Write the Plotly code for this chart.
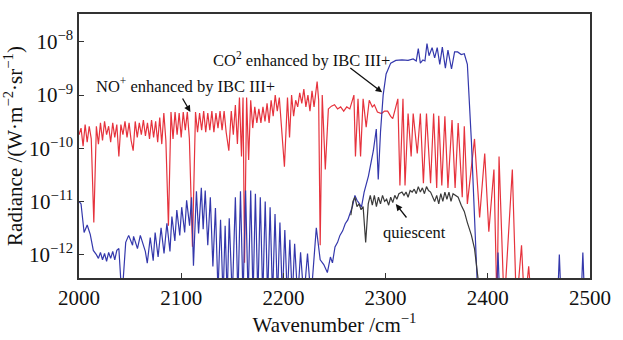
import plotly.graph_objects as go

# ---------------- data ----------------
red_wn = [2000, 2002, 2004, 2006, 2008, 2010, 2012, 2014.5, 2017, 2019, 2021, 2023, 2025, 2027, 2029,
          2031, 2033, 2035, 2037, 2039, 2041, 2043, 2045, 2047, 2049, 2051, 2053, 2055, 2057, 2059,
          2061, 2063, 2065, 2067, 2069, 2071, 2073, 2075, 2077, 2079, 2081, 2083, 2085, 2087.5, 2090,
          2092, 2094, 2096, 2098, 2100, 2102, 2104, 2106, 2108, 2111, 2114, 2116, 2118, 2120, 2122,
          2124, 2126, 2128, 2130, 2132, 2134, 2136, 2138, 2140, 2142, 2144, 2146.6, 2149, 2151, 2153,
          2155, 2157, 2159, 2160.5, 2162, 2164, 2166, 2168, 2170, 2172, 2174, 2176, 2178, 2180, 2182,
          2184, 2186, 2188, 2190, 2192, 2194, 2196, 2198, 2201, 2204, 2206, 2208, 2210, 2212, 2214,
          2216, 2218, 2220, 2222, 2224, 2226, 2228, 2230, 2233, 2234.5, 2236, 2238, 2241, 2244, 2247,
          2250, 2253, 2256, 2259, 2262, 2265, 2267, 2269, 2270.5, 2273, 2275.5, 2278, 2281, 2284, 2287,
          2289, 2292, 2296, 2299, 2302, 2305, 2307, 2310, 2312, 2314, 2317, 2319, 2322, 2325, 2327,
          2331, 2334, 2337, 2340, 2344, 2347, 2350, 2352, 2355, 2358, 2361, 2365, 2368, 2371, 2375,
          2377, 2380, 2387, 2392, 2397, 2401, 2406, 2409, 2411, 2416, 2424, 2428, 2433, 2436, 2440, 2443]
red_val = [1.8e-10, 2.4e-10, 1.1e-10, 2.8e-10, 1.3e-10, 2.6e-10, 1.5e-10, 4.0e-12, 2.6e-10, 1.2e-10,
           3.0e-10, 1.4e-10, 3.2e-10, 1.8e-10, 2.6e-10, 1.3e-10, 3.0e-10, 1.6e-10, 2.8e-10, 7.0e-11,
           2.8e-10, 1.8e-10, 3.2e-10, 1.6e-10, 3.0e-10, 1.4e-10, 9.0e-11, 3.2e-10, 1.6e-10, 3.0e-10,
           1.8e-10, 3.4e-10, 1.7e-10, 3.0e-10, 1.5e-10, 3.4e-10, 1.6e-10, 3.2e-10, 1.3e-10, 3.8e-10,
           1.2e-10, 4.6e-10, 1.4e-10, 3.5e-12, 4.8e-10, 1.5e-10, 4.8e-10, 1.8e-10, 4.6e-10, 1.6e-10,
           4.8e-10, 2.2e-10, 4.8e-10, 1.5e-10, 1.4e-12, 4.8e-10, 2.0e-10, 4.6e-10, 2.2e-10, 5.0e-10,
           2.0e-10, 4.6e-10, 2.2e-10, 5.0e-10, 2.0e-10, 4.6e-10, 2.4e-10, 5.0e-10, 2.2e-10, 5.0e-10,
           2.0e-10, 9.0e-11, 5.0e-10, 1.8e-10, 6.5e-10, 1.2e-10, 9.0e-10, 7.0e-11, 9.0e-10, 7.0e-13,
           9.0e-10, 6.0e-11, 8.0e-10, 2.4e-10, 6.0e-10, 3.0e-10, 5.5e-10, 3.0e-10, 6.0e-10, 3.2e-10,
           7.0e-10, 3.0e-10, 8.0e-10, 4.0e-10, 1.0e-9, 5.0e-10, 9.0e-10, 2.4e-10, 4.5e-11, 9.0e-10,
           1.6e-10, 1.0e-9, 4.0e-10, 8.0e-10, 6.0e-10, 1.1e-9, 7.0e-10, 1.3e-9, 6.0e-10, 1.0e-9,
           5.0e-10, 1.2e-9, 6.0e-10, 1.8e-9, 8.0e-10, 1.5e-12, 1.0e-9, 4.0e-11, 5.5e-10, 6.2e-10,
           6.6e-10, 5.5e-10, 6.0e-10, 5.0e-10, 6.0e-10, 5.5e-10, 7.5e-10, 1.0e-9, 7.0e-11, 8.5e-10,
           7.0e-11, 8.5e-10, 2.5e-10, 8.0e-10, 6.0e-10, 6.6e-10, 4.8e-10, 4.5e-10, 5.0e-10, 5.0e-10,
           4.0e-10, 3.6e-10, 6.0e-10, 8.5e-10, 2.0e-11, 8.5e-10, 2.0e-11, 4.5e-10, 7.0e-11, 4.5e-10,
           8.0e-11, 4.5e-10, 2.2e-11, 4.5e-10, 2.2e-11, 4.5e-10, 1.8e-11, 4.1e-10, 2.0e-11, 4.0e-10,
           1.8e-11, 3.4e-10, 1.8e-11, 3.0e-10, 1.2e-11, 2.6e-10, 9.0e-12, 1.5e-10, 5.0e-12, 8.0e-11,
           2.7e-12, 4.0e-11, 1.0e-13, 7.0e-11, 1.0e-13, 4.0e-11, 1.0e-13, 1.5e-12, 1.0e-13, 6.0e-13,
           1.0e-13]

blue_wn = [2000, 2002, 2005, 2008, 2011, 2014, 2017, 2019, 2021, 2023, 2025, 2027, 2029, 2031, 2033,
           2035, 2037, 2039, 2042, 2045.7, 2048.6, 2052.4, 2053.4, 2057.2, 2060, 2064.9, 2066.8, 2069.7,
           2072.6, 2074.5, 2077.4, 2080.3, 2083.2, 2086, 2089, 2090.9, 2093.8, 2095.7, 2098.6, 2100.5,
           2103.4, 2105.3, 2108.2, 2110.1, 2112, 2114.9, 2117, 2119.7, 2121.5, 2123.5, 2126, 2128.5,
           2131, 2133.5, 2136, 2138.5, 2141, 2143, 2145, 2147, 2150, 2153, 2155.5, 2158, 2160.5, 2163,
           2165.5, 2168, 2170.3, 2172.6, 2175, 2177.4, 2179.8, 2182.2, 2184.6, 2187, 2189.4, 2191.8,
           2194.2, 2196.6, 2199, 2201.4, 2203.8, 2206.3, 2208.7, 2211, 2214, 2216.8, 2220, 2223.6, 2227,
           2232.2, 2236, 2239.5, 2243, 2246, 2248, 2250.5, 2253, 2255.3, 2258, 2260.5, 2263, 2265,
           2267.5, 2270, 2272, 2274.5, 2276.4, 2279, 2283.2, 2288, 2290.9, 2292.8, 2295, 2297.6, 2300.5,
           2305, 2310, 2316, 2322, 2327, 2330, 2332, 2334, 2336.5, 2338.5, 2340.5, 2342.5, 2345.5, 2348,
           2350.5, 2353, 2355.5, 2358.5, 2361, 2364.5, 2367.5, 2370.5, 2374, 2377, 2380, 2384, 2390,
           2408, 2410, 2412, 2468, 2470, 2472, 2491, 2493, 2495, 2500]
blue_val = [1.0e-11, 9.0e-12, 2.6e-12, 3.6e-12, 2.4e-12, 1.2e-12, 1.0e-12, 8.5e-13, 1.1e-12, 8.0e-13,
            1.05e-12, 7.5e-13, 1.1e-12, 8.5e-13, 1.15e-12, 8.0e-13, 1.2e-12, 1.3e-12, 1.5e-13, 1.7e-12,
            2.3e-12, 1.5e-12, 2.2e-12, 1.3e-12, 2.3e-12, 1.15e-12, 6.9e-13, 2.1e-12, 7.7e-13, 2.6e-12,
            9.0e-13, 3.2e-12, 1.05e-12, 3.9e-12, 1.15e-12, 5.2e-12, 1.8e-12, 6.9e-12, 2.3e-12, 7.8e-12,
            2.6e-12, 1.05e-11, 3.5e-12, 1.2e-11, 6.2e-13, 1.55e-11, 2.5e-12, 1.8e-11, 3.0e-12, 1.6e-11,
            1.5e-12, 1.2e-11, 6.0e-13, 7.5e-12, 2.0e-13, 4.5e-12, 1.5e-13, 3.5e-12, 1.5e-13, 4.8e-12,
            1.5e-13, 1.2e-11, 1.5e-13, 1.55e-11, 1.5e-13, 1.6e-11, 1.5e-13, 1.6e-11, 1.5e-13, 1.4e-11,
            1.5e-13, 1.2e-11, 1.5e-13, 1.0e-11, 1.5e-13, 7.8e-12, 1.5e-13, 5.8e-12, 1.5e-13, 4.0e-12,
            1.5e-13, 2.9e-12, 1.5e-13, 1.9e-12, 1.5e-13, 1.6e-12, 1.5e-13, 1.1e-12, 1.5e-13, 1.05e-12,
            1.5e-13, 3.2e-12, 8.0e-13, 6.5e-13, 4.6e-13, 9.0e-13, 7.0e-13, 1.4e-12, 1.7e-12, 2.3e-12,
            2.8e-12, 3.8e-12, 4.5e-12, 6.0e-12, 8.0e-12, 1.3e-11, 1.05e-11, 9.0e-12, 7.8e-12, 1.5e-11,
            3.0e-11, 9.0e-11, 2.3e-10, 2.6e-11, 2.0e-10, 1.0e-9, 2.5e-9, 4.0e-9, 4.5e-9, 4.6e-9, 4.5e-9,
            4.8e-9, 4.4e-9, 7.5e-9, 4.0e-9, 4.6e-9, 4.4e-9, 9.3e-9, 5.5e-9, 7.8e-9, 5.0e-9, 7.8e-9,
            3.8e-9, 8.0e-9, 3.2e-9, 7.0e-9, 3.1e-9, 6.5e-9, 6.5e-9, 5.8e-9, 6.0e-9, 3.8e-9, 1.3e-10,
            2.0e-13, 1.0e-13, 1.1e-12, 1.0e-13, 1.0e-13, 1.0e-12, 1.0e-13, 1.0e-13, 1.1e-12, 1.0e-13,
            1.0e-13]

quiet_wn = [2266, 2268, 2270, 2272, 2274, 2276, 2278, 2280.5, 2283, 2285, 2287, 2289, 2291, 2293, 2295,
            2297, 2299, 2301, 2303, 2305, 2307, 2309, 2311, 2313, 2316, 2318, 2320, 2322, 2324, 2326,
            2328, 2330, 2332, 2334, 2336, 2338, 2340, 2342, 2344, 2346, 2348, 2350, 2352, 2354, 2356,
            2358, 2360, 2362, 2364, 2366, 2368, 2371, 2374, 2377, 2380, 2384, 2387, 2389.5, 2392]
quiet_val = [5.5e-12, 1.0e-11, 1.2e-11, 8.0e-12, 9.0e-12, 7.0e-12, 8.0e-12, 1.7e-12, 9.0e-12, 1.3e-11,
             8.5e-12, 1.3e-11, 8.0e-12, 1.2e-11, 9.0e-12, 1.3e-11, 1.0e-11, 1.1e-11, 8.5e-12, 1.2e-11,
             9.5e-12, 1.3e-11, 1.1e-11, 1.4e-11, 1.5e-11, 1.3e-11, 1.5e-11, 1.2e-11, 1.6e-11, 1.5e-11,
             1.7e-11, 1.4e-11, 1.9e-11, 1.5e-11, 1.8e-11, 1.4e-11, 1.9e-11, 1.6e-11, 1.5e-11, 1.2e-11,
             1.0e-11, 1.3e-11, 9.0e-12, 1.4e-11, 1.0e-11, 1.5e-11, 1.1e-11, 1.5e-11, 1.0e-11, 1.4e-11,
             1.3e-11, 1.2e-11, 8.5e-12, 6.5e-12, 4.0e-12, 2.3e-12, 1.3e-12, 6.0e-13, 2.0e-13]

x_ticks = [2000, 2100, 2200, 2300, 2400, 2500]
y_ticks = [1e-12, 1e-11, 1e-10, 1e-9, 1e-8]
y_ticktext = ["10<sup>\u221212</sup>", "10<sup>\u221211</sup>", "10<sup>\u221210</sup>",
              "10<sup>\u22129</sup>", "10<sup>\u22128</sup>"]

FONT = "Liberation Serif"

fig = go.Figure()
fig.add_trace(go.Scatter(x=red_wn, y=red_val, mode="lines",
                         line=dict(color="#e6333d", width=1.2), name="NO+"))
fig.add_trace(go.Scatter(x=blue_wn, y=blue_val, mode="lines",
                         line=dict(color="#3438ac", width=1.2), name="CO2"))
fig.add_trace(go.Scatter(x=quiet_wn, y=quiet_val, mode="lines",
                         line=dict(color="#3a3a3a", width=1.2), name="quiescent"))

annots = [
    dict(x=2014.4, y=-8.82, text="NO<sup>+</sup> enhanced by IBC III+", showarrow=False,
         xanchor="left", yanchor="middle", font=dict(family=FONT, size=16.5, color="#111")),
    dict(x=2129.5, y=-8.333, text="CO<sup>2</sup> enhanced by IBC III+", showarrow=False,
         xanchor="left", yanchor="middle", font=dict(family=FONT, size=16.5, color="#111")),
    dict(x=2295.7, y=-11.58, text="quiescent", showarrow=False,
         xanchor="left", yanchor="middle", font=dict(family=FONT, size=16.5, color="#111")),
    dict(x=2109, y=-9.316, ax=2100.5, ay=-9.035, axref="x", ayref="y", text="", showarrow=True,
         arrowhead=2, arrowsize=1, arrowwidth=1.3, arrowcolor="#111"),
    dict(x=2296.6, y=-8.947, ax=2264, ay=-8.47, axref="x", ayref="y", text="", showarrow=True,
         arrowhead=2, arrowsize=1, arrowwidth=1.3, arrowcolor="#111"),
    dict(x=2310, y=-11.05, ax=2321.6, ay=-11.33, axref="x", ayref="y", text="", showarrow=True,
         arrowhead=2, arrowsize=1, arrowwidth=1.3, arrowcolor="#111"),
]

fig.update_layout(
    width=623, height=340,
    margin=dict(l=78, r=26, t=13, b=44),
    paper_bgcolor="white", plot_bgcolor="white",
    showlegend=False,
    font=dict(family=FONT, size=21, color="#111"),
    annotations=annots,
)
fig.update_xaxes(range=[2000, 2500], tickvals=x_ticks, ticks="inside", ticklen=5, tickwidth=1.2,
                 tickcolor="#333", showline=True, linecolor="#333", linewidth=1.5, mirror=True,
                 showgrid=False, zeroline=False, tickfont=dict(family=FONT, size=21),
                 title=dict(text="Wavenumber /cm<sup>\u22121</sup>", font=dict(family=FONT, size=21),
                            standoff=3))
fig.update_yaxes(type="log", range=[-12.44, -7.474], tickvals=y_ticks, ticktext=y_ticktext,
                 ticks="inside", ticklen=5, tickwidth=1.2, tickcolor="#333", showline=True,
                 linecolor="#333", linewidth=1.5, mirror=True, showgrid=False, zeroline=False,
                 tickfont=dict(family=FONT, size=21),
                 title=dict(text="Radiance /(W\u00b7m<sup>\u22122</sup>\u00b7sr<sup>\u22121</sup>)",
                            font=dict(family=FONT, size=21), standoff=2))

fig.write_html("out.html")
